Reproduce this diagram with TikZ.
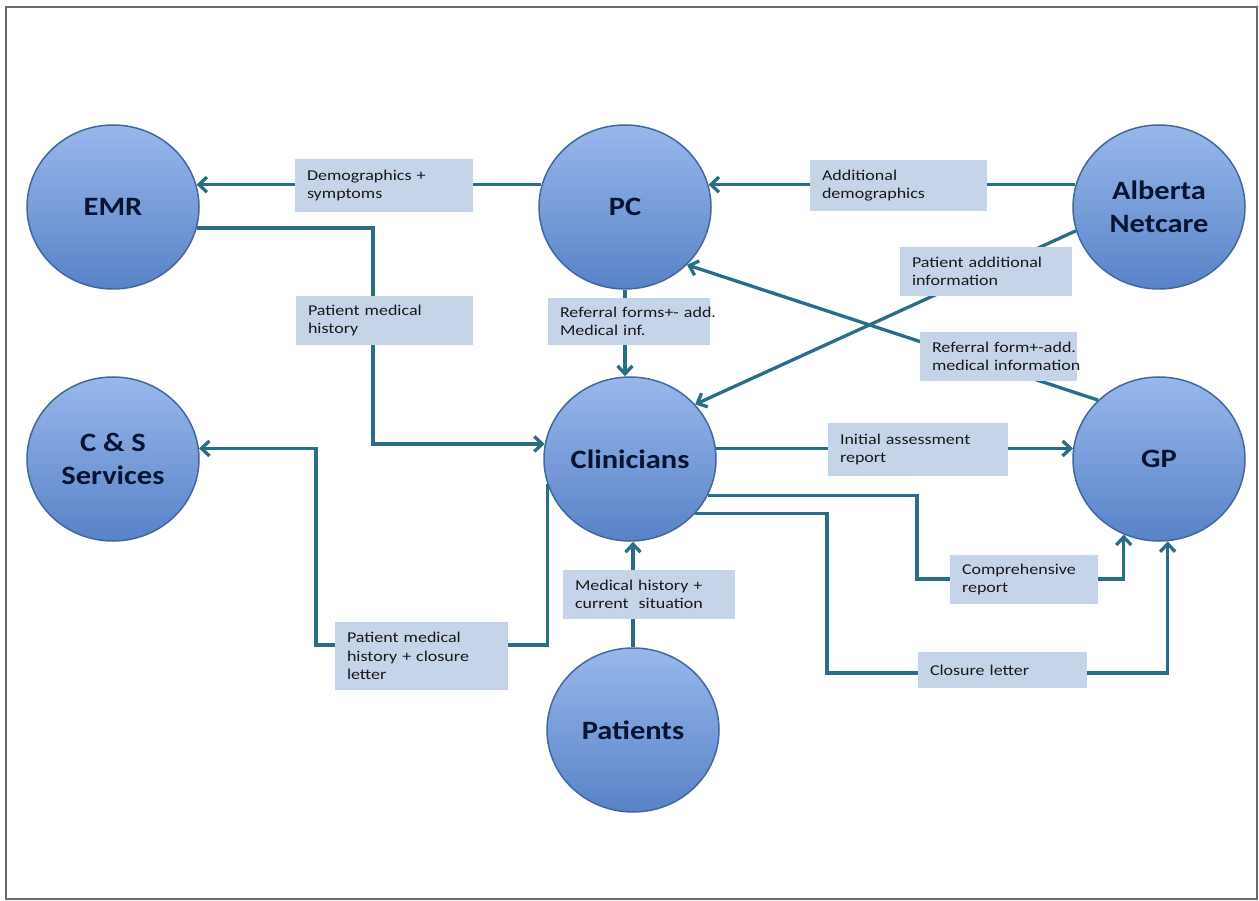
\documentclass[tikz,border=0pt]{standalone}
\usepackage{fontspec}
\setmainfont{Carlito}
\newfontfamily\lblfont[FakeStretch=1.2]{Carlito}
\newfontfamily\cfont[FakeStretch=1.15]{Carlito}
\usetikzlibrary{arrows.meta,shapes.geometric}
\definecolor{edgecol}{RGB}{40,110,135}
\definecolor{lblfill}{RGB}{198,212,234}
\definecolor{ctop}{RGB}{152,184,236}
\definecolor{cbot}{RGB}{88,130,199}
\definecolor{cborder}{RGB}{66,104,160}
\definecolor{ctext}{RGB}{10,20,50}
\definecolor{framecol}{RGB}{105,105,105}
\begin{document}
\begin{tikzpicture}[x=1pt,y=-1pt,
  ent/.style={ellipse, minimum width=172, minimum height=164, top color=ctop, bottom color=cbot, draw=cborder, line width=1.5, font=\cfont\bfseries\fontsize{26.5}{33}\selectfont, text=ctext, align=center, inner sep=0},
  lbl/.style={fill=lblfill, inner xsep=12, inner ysep=2, align=left, font=\lblfont\fontsize{15}{18.5}\selectfont, text=black!90},
  arr/.style={draw=edgecol, line width=3.3, -{Straight Barb[length=8,width=15]}}
]
\useasboundingbox (0,0) rectangle (1259,901);
\fill[white] (0,0) rectangle (1259,901);
\draw[framecol, line width=2.5] (6,7) rectangle (1257,899);

% entities
\node[ent] (EMR) at (113,207) {EMR};
\node[ent] (PC) at (625,207) {PC};
\node[ent] (AN) at (1159,207) {Alberta\\Netcare};
\node[ent] (CS) at (113,459) {C \& S\\Services};
\node[ent] (CL) at (630,459) {Clinicians};
\node[ent] (GP) at (1159,459) {GP};
\node[ent] (PT) at (633,730) {Patients};

% connectors
\draw[arr] (PC.165) -- (EMR.15);
\draw[arr] (AN.165) -- (PC.15);
\draw[arr] (EMR.-14) -| (373,300) |- (CL.170);
\draw[arr] (PC.south) -- (PC.south |- CL.north);
\draw[arr] (AN.196) -- (CL.40);
\draw[arr] (GP.136) -- (PC.-43);
\draw[arr] (CL.7) -- (GP.173);
\draw[arr] (CL.-25) -| (917,540) |- (GP.245 |- 0,579) -- (GP.245);
\draw[arr] (CL.-40) -| (827,600) |- (GP.-84 |- 0,673) -- (GP.-84);
\draw[arr] (PT.north) -- (PT.north |- CL.south);
\draw[arr] (CL.197) |- (316,645) |- (CS.7);

% labels
\node[lbl, text width=154, minimum height=53] (L1) at (384,185.5) {\mbox{Demographics +}\\symptoms};
\node[lbl, text width=153, minimum height=51] (L2) at (898.5,185.5) {Additional\\demographics};
\node[lbl, text width=153, minimum height=49] (L3) at (384.5,320.5) {\mbox{Patient medical}\\history};
\node[lbl, text width=138, minimum height=47] (L4) at (629,321.5) {\mbox{Referral forms+- add.}\\\mbox{Medical inf.}};
\node[lbl, text width=148, minimum height=49] (L5) at (986,271.5) {\mbox{Patient additional}\\information};
\node[lbl, text width=133, minimum height=49] (L6) at (998.5,356.5) {\mbox{Referral form+-add.}\\\mbox{medical information}};
\node[lbl, text width=156, minimum height=53] (L7) at (918,449.5) {\mbox{Initial assessment}\\report};
\node[lbl, text width=124, minimum height=49] (L8) at (1024,579.5) {\mbox{Comprehensive}\\report};
\node[lbl, text width=145, minimum height=36] (L9) at (1002.5,670) {\mbox{Closure letter}};
\node[lbl, text width=148, minimum height=49] (L10) at (649,594.5) {\mbox{Medical history +}\\\mbox{current\ \ situation}};
\node[lbl, text width=149, minimum height=68] (L11) at (421.5,656) {\mbox{Patient medical}\\\mbox{history + closure}\\letter};
\end{tikzpicture}
\end{document}
